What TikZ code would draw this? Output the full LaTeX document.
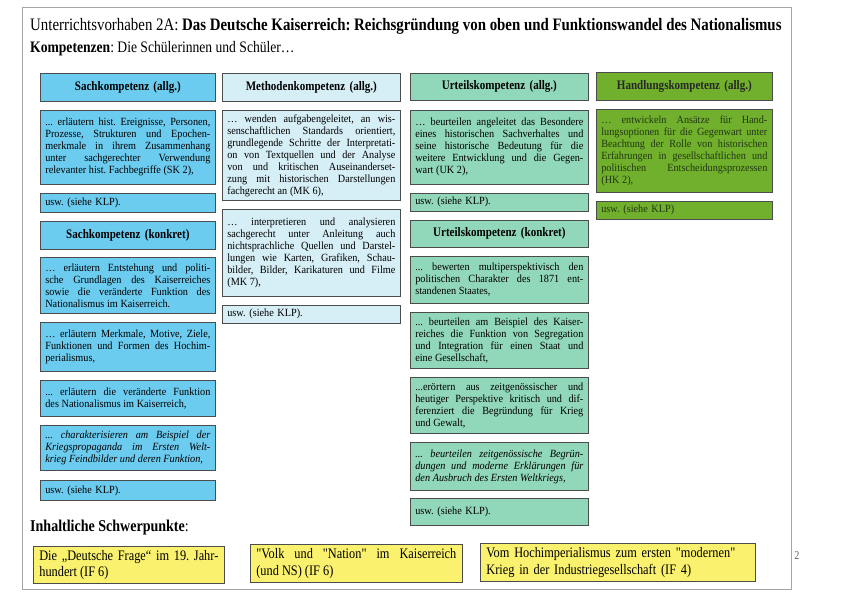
\documentclass[tikz,border=0pt]{standalone}
\usepackage{fontspec}
\setmainfont{Liberation Serif}[FakeStretch=0.85]
\newfontfamily\geradefont{Liberation Serif}[FakeStretch=0.85, Ligatures=TeXOff]
\newfontfamily\feldfamilie{Liberation Serif}[FakeStretch=0.93]
\frenchspacing
\definecolor{sachblau}{RGB}{108,204,240}
\definecolor{methblau}{RGB}{214,238,246}
\definecolor{urtgruen}{RGB}{145,215,186}
\definecolor{handgruen}{RGB}{112,176,44}
\definecolor{ifgelb}{RGB}{250,242,110}
\definecolor{rahmen}{RGB}{165,165,165}
\definecolor{handtext}{RGB}{35,55,20}
\newcommand{\gq}{{\geradefont\symbol{34}}}
\newcommand{\feldschrift}{\feldfamilie\fontsize{11}{12}\selectfont\spaceskip=.24em plus .6em minus .1em\relax}
\tikzset{
  feld/.style={draw=black!70, line width=0.7pt, anchor=north west, inner xsep=5pt, inner ysep=2pt,
    font=\feldschrift, align=justify},
  kopf/.style={align=center, font=\fontsize{13}{15}\selectfont\bfseries},
  sachbox/.style={feld, fill=sachblau, text width=165pt},
  methbox/.style={feld, fill=methblau, text width=168pt},
  urtbox/.style={feld, fill=urtgruen, text width=168pt},
  handbox/.style={feld, fill=handgruen, text width=166pt, text=handtext},
  ifbox/.style={feld, fill=ifgelb, font=\fontsize{14.5}{16.5}\selectfont, align=left, inner xsep=6pt}
}
\begin{document}
\begin{tikzpicture}[x=1pt, y=-1pt]
\useasboundingbox (0,0) rectangle (850,596);
\draw[rahmen, line width=1pt] (22,8) rectangle (791,589);
% Kopfzeilen
\node[anchor=west, inner xsep=2pt, font=\fontsize{17.5}{20}\selectfont] (titel) at (28,26)
  {Unterrichtsvorhaben 2A: \textbf{Das Deutsche Kaiserreich: Reichsgründung von oben und Funktionswandel des Nationalismus}};
\node[anchor=west, inner xsep=2pt, font=\fontsize{16}{19}\selectfont] (komp) at (28,49)
  {\textbf{Kompetenzen}: Die Schülerinnen und Schüler…};

% Sachkompetenz
\node[sachbox, kopf, minimum height=28pt] (sk) at (40,73) {Sachkompetenz (allg.)};
\node[sachbox, minimum height=74pt] (sk2) at (40,110)
  {... erläutern hist. Ereignisse, Personen,\linebreak Prozesse, Strukturen und Epochen-\linebreak merkmale in ihrem Zusammenhang\linebreak unter sachgerechter Verwendung\linebreak relevanter hist. Fachbegriffe (SK 2),};
\node[sachbox, align=left, minimum height=19pt] (skusw) at (40,193) {usw. (siehe KLP).};
\node[sachbox, kopf, minimum height=28pt] (skk) at (40,221) {Sachkompetenz (konkret)};
\node[sachbox, minimum height=56pt] (skk1) at (40,257)
  {… erläutern Entstehung und politi-\linebreak sche Grundlagen des Kaiserreiches\linebreak sowie die veränderte Funktion des\linebreak Nationalismus im Kaiserreich.};
\node[sachbox, minimum height=49pt] (skk2) at (40,322)
  {… erläutern Merkmale, Motive, Ziele,\linebreak Funktionen und Formen des Hochim-\linebreak perialismus,};
\node[sachbox, minimum height=36pt] (skk3) at (40,380)
  {... erläutern die veränderte Funktion\linebreak des Nationalismus im Kaiserreich,};
\node[sachbox, minimum height=45pt] (skk4) at (40,425)
  {\itshape ... charakterisieren am Beispiel der\linebreak Kriegspropaganda im Ersten Welt-\linebreak krieg Feindbilder und deren Funktion,};
\node[sachbox, align=left, minimum height=20pt] (skkusw) at (40,480) {usw. (siehe KLP).};

% Methodenkompetenz
\node[methbox, kopf, minimum height=28pt] (mk) at (222,73) {Methodenkompetenz (allg.)};
\node[methbox, minimum height=90pt] (mk6) at (222,110)
  {… wenden aufgabengeleitet, an wis-\linebreak senschaftlichen Standards orientiert,\linebreak grundlegende Schritte der Interpretati-\linebreak on von Textquellen und der Analyse\linebreak von und kritischen Auseinanderset-\linebreak zung mit historischen Darstellungen\linebreak fachgerecht an (MK 6),};
\node[methbox, minimum height=87pt] (mk7) at (222,209)
  {… interpretieren und analysieren\linebreak sachgerecht unter Anleitung auch\linebreak nichtsprachliche Quellen und Darstel-\linebreak lungen wie Karten, Grafiken, Schau-\linebreak bilder, Bilder, Karikaturen und Filme\linebreak (MK 7),};
\node[methbox, align=left, minimum height=18pt] (mkusw) at (222,305) {usw. (siehe KLP).};

% Urteilskompetenz
\node[urtbox, kopf, minimum height=27pt] (uk) at (410,73) {Urteilskompetenz (allg.)};
\node[urtbox, minimum height=74pt] (uk2) at (410,110)
  {… beurteilen angeleitet das Besondere\linebreak eines historischen Sachverhaltes und\linebreak seine historische Bedeutung für die\linebreak weitere Entwicklung und die Gegen-\linebreak wart (UK 2),};
\node[urtbox, align=left, minimum height=18pt] (ukusw) at (410,193) {usw. (siehe KLP).};
\node[urtbox, kopf, minimum height=27pt] (ukk) at (410,220) {Urteilskompetenz (konkret)};
\node[urtbox, minimum height=47pt] (ukk1) at (410,256)
  {... bewerten multiperspektivisch den\linebreak politischen Charakter des 1871 ent-\linebreak standenen Staates,};
\node[urtbox, minimum height=56pt] (ukk2) at (410,312)
  {... beurteilen am Beispiel des Kaiser-\linebreak reiches die Funktion von Segregation\linebreak und Integration für einen Staat und\linebreak eine Gesellschaft,};
\node[urtbox, minimum height=56pt] (ukk3) at (410,377)
  {...erörtern aus zeitgenössischer und\linebreak heutiger Perspektive kritisch und dif-\linebreak ferenziert die Begründung für Krieg\linebreak und Gewalt,};
\node[urtbox, minimum height=48pt] (ukk4) at (410,442)
  {\itshape ... beurteilen zeitgenössische Begrün-\linebreak dungen und moderne Erklärungen für\linebreak den Ausbruch des Ersten Weltkriegs,};
\node[urtbox, align=left, minimum height=27pt] (ukkusw) at (410,498) {usw. (siehe KLP).\\[6pt]};

% Handlungskompetenz
\node[handbox, kopf, minimum height=28pt, text=black!85] (hk) at (596,72) {Handlungskompetenz (allg.)};
\node[handbox, minimum height=83pt] (hk2) at (596,109)
  {… entwickeln Ansätze für Hand-\linebreak lungsoptionen für die Gegenwart unter\linebreak Beachtung der Rolle von historischen\linebreak Erfahrungen in gesellschaftlichen und\linebreak politischen Entscheidungsprozessen\linebreak (HK 2),};
\node[handbox, align=left, minimum height=18pt] (hkusw) at (596,201) {usw. (siehe KLP)};

% Inhaltliche Schwerpunkte
\node[anchor=west, inner xsep=2pt, font=\fontsize{16.5}{19}\selectfont] (isp) at (28,528) {\textbf{Inhaltliche Schwerpunkte}:};
\node[ifbox, text width=179pt, minimum height=37pt, align=justify] (if1) at (33,546)
  {Die „Deutsche Frage“ im 19. Jahr-\linebreak hundert (IF 6)};
\node[ifbox, text width=200pt, minimum height=38pt, align=justify] (if2) at (250,544)
  {\gq Volk und \gq Nation\gq{} im Kaiserreich\linebreak (und NS) (IF 6)};
\node[ifbox, text width=263pt, minimum height=38pt] (if3) at (480,543)
  {Vom Hochimperialismus zum ersten \gq modernen\gq\\Krieg in der Industriegesellschaft (IF 4)};
\node[font=\fontsize{12}{14}\selectfont, text=black!60] (seite) at (797,556) {2};
\end{tikzpicture}
\end{document}
